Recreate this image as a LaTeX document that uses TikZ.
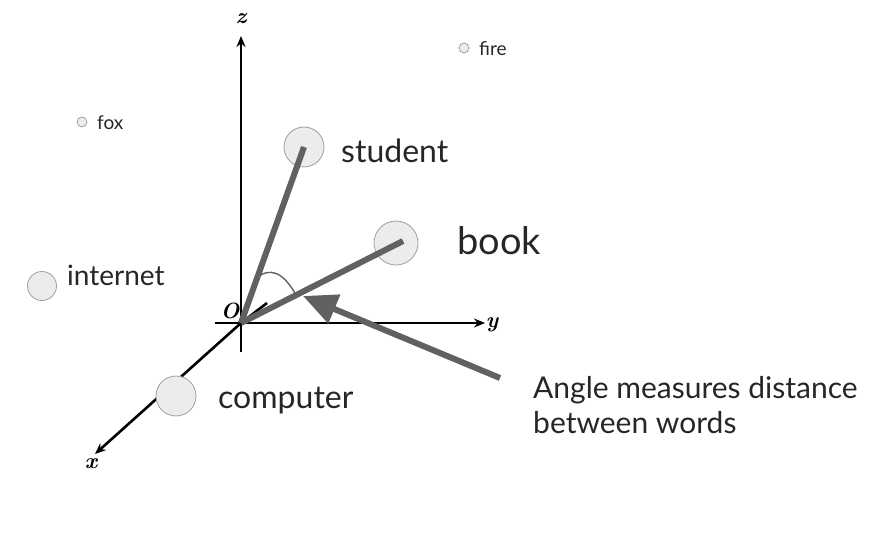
\documentclass[tikz,border=0pt]{standalone}
\usepackage{fontspec}
\newfontfamily\lato{Lato}
\usetikzlibrary{positioning,arrows,arrows.meta}

\tikzset{
    word/.style={circle,draw=gray!75,fill=gray!15,line width=0.8pt,inner sep=0pt},
    big/.style={word,minimum size=40pt},
    small/.style={word,minimum size=10pt},
    wlabel/.style={font=\lato,text=black!85,inner sep=0pt,anchor=west},
    axis/.style={line width=2.6pt,-{Stealth[length=11pt,width=9pt]}},
    vec/.style={line width=6pt,draw=black!62},
    axlabel/.style={font=\fontsize{22}{22}\selectfont\bfseries\itshape}
}

\begin{document}
\begin{tikzpicture}[x=1pt,y=-1pt]
        \useasboundingbox (0,0) rectangle (876,559);
        \coordinate (O) at (241,323);

        % axes
        \draw[line width=2.6pt] (241,352) -- (O);
        \draw[axis] (O) -- (241,36) coordinate (ztip);
        \draw[axis] (215,323) -- (485,323) coordinate (ytip);
        \draw[axis] (O) -- (95,454) coordinate (xtip);
        \draw[line width=2.6pt] (O) -- (267,303);
        \node[axlabel] (zl) at (241,19) {z};
        \node[axlabel] (yl) at (492,325) {y};
        \node[axlabel] (xl) at (91,464) {x};
        \node[axlabel] (ol) at (230,311) {O};

        % words
        \node[small] (fox) at (82,122) {};
        \node[small] (fire) at (464,48) {};
        \node[word,minimum size=29pt] (internet) at (42,286) {};
        \node[big] (computer) at (176,396) {};
        \node[big] (student) at (304,147) {};
        \node[word,minimum size=44pt] (book) at (396,243) {};

        \node[wlabel,font=\lato\fontsize{19}{19}\selectfont] at (97,123) {fox};
        \node[wlabel,font=\lato\fontsize{19}{19}\selectfont] at (479,49) {fire};
        \node[wlabel,font=\lato\fontsize{28}{28}\selectfont] at (67,275) {internet};
        \node[wlabel,font=\lato\fontsize{32}{32}\selectfont] at (218,401) {computer};
        \node[wlabel,font=\lato\fontsize{32}{32}\selectfont] at (341,151) {student};
        \node[wlabel,font=\lato\fontsize{38}{38}\selectfont] at (457,241) {book};

        % vectors and angle
        \draw[vec] (O) -- (student.center);
        \draw[vec] (O) -- ([xshift=7pt,yshift=2pt]book.center);
        \draw[line width=1.4pt,draw=black!62] (259,276) .. controls (268,270) and (282,268) .. (297,297);

        \coordinate (tail) at (500,378);
        \draw[vec,-{Triangle[length=34pt,width=30pt]},fill=black!62] (tail) -- (303,296);
        \node[wlabel,font=\lato\fontsize{30}{35}\selectfont,align=left,anchor=north west] (note) at (533,376) {Angle measures distance\\between words};
\end{tikzpicture}
\end{document}
